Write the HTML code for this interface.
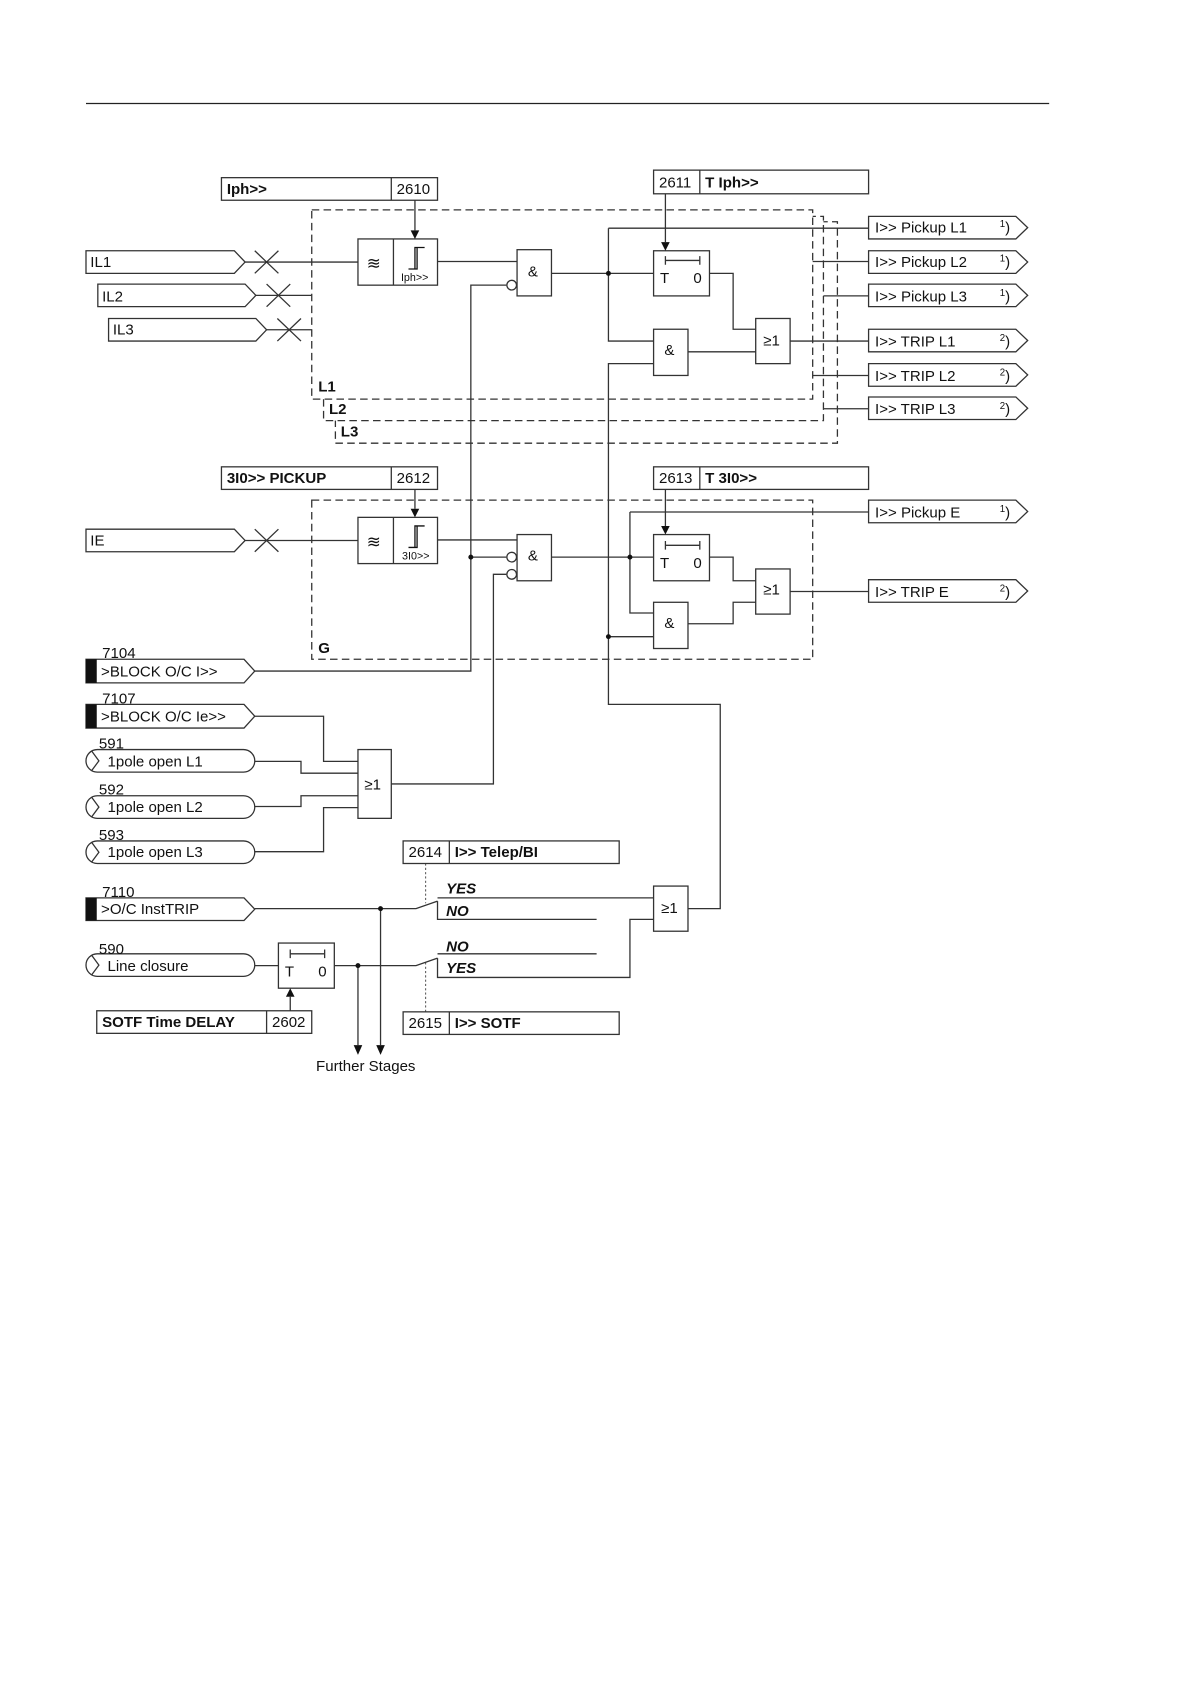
<!DOCTYPE html>
<html><head><meta charset="utf-8"><style>
html,body{margin:0;padding:0;background:#fff}
svg{display:block}
text{font-family:"Liberation Sans",sans-serif;fill:#111}
.b{font-weight:bold}
.i{font-weight:bold;font-style:italic}
</style></head><body>
<svg width="1190" height="1684" viewBox="0 0 1107 1566" xmlns="http://www.w3.org/2000/svg">
<g stroke="#333" stroke-width="1.2" fill="none">
<line x1="80" y1="96" x2="976" y2="96" stroke="#222"/>
<!-- dashed boxes -->
<rect x="312" y="206" width="467" height="206" fill="#fff" stroke-dasharray="7,4"/>
<rect x="301" y="201" width="465" height="190" fill="#fff" stroke-dasharray="7,4"/>
<rect x="290" y="195" width="466" height="176" fill="#fff" stroke-dasharray="7,4"/>
<rect x="290" y="465" width="466" height="148" stroke-dasharray="7,4"/>
<!-- param boxes -->
<rect x="206" y="165" width="201" height="21"/><line x1="364" y1="165" x2="364" y2="186"/>
<rect x="608" y="158" width="200" height="22"/><line x1="651" y1="158" x2="651" y2="180"/>
<rect x="206" y="434" width="201" height="21"/><line x1="364" y1="434" x2="364" y2="455"/>
<rect x="608" y="434" width="200" height="21"/><line x1="651" y1="434" x2="651" y2="455"/>
<rect x="375" y="782" width="201" height="21"/><line x1="418" y1="782" x2="418" y2="803"/>
<rect x="375" y="941" width="201" height="21"/><line x1="418" y1="941" x2="418" y2="962"/>
<rect x="90" y="940" width="200" height="21"/><line x1="248" y1="940" x2="248" y2="961"/>
<!-- inputs -->
<path d="M80,233 H218 L228,243.5 L218,254 H80 Z"/>
<path d="M91,264 H228 L238,274.5 L228,285 H91 Z"/>
<path d="M101,296 H238 L248,306.5 L238,317 H101 Z"/>
<path d="M80,492 H218 L228,502.5 L218,513 H80 Z"/>
<path d="M80,613 H227 L237,624 L227,635 H80 Z"/>
<path d="M80,655 H227 L237,666 L227,677 H80 Z"/>
<path d="M80,835 H227 L237,845.5 L227,856 H80 Z"/>
<rect x="80" y="697" width="157" height="21" rx="10.5"/><path d="M85,698 L92,707.5 L85,717"/>
<rect x="80" y="740" width="157" height="21" rx="10.5"/><path d="M85,741 L92,750.5 L85,760"/>
<rect x="80" y="782" width="157" height="21" rx="10.5"/><path d="M85,783 L92,792.5 L85,802"/>
<rect x="80" y="887" width="157" height="21" rx="10.5"/><path d="M85,888 L92,897.5 L85,907"/>
<!-- crosses -->
<path d="M237,233 L259,254 M237,254 L259,233"/>
<path d="M248,264 L270,285 M248,285 L270,264"/>
<path d="M258,296 L280,317 M258,317 L280,296"/>
<path d="M237,492 L259,513 M237,513 L259,492"/>
<!-- filter blocks -->
<rect x="333" y="222" width="74" height="43"/><line x1="366" y1="222" x2="366" y2="265"/>
<rect x="333" y="481" width="74" height="43"/><line x1="366" y1="481" x2="366" y2="524"/>
<path d="M380,250 H388 V230 M386,250 V230 H395" stroke="#111"/>
<path d="M380,509 H388 V489 M386,509 V489 H395" stroke="#111"/>
<!-- gates -->
<rect x="481" y="232" width="32" height="43"/>
<rect x="481" y="497" width="32" height="43"/>
<circle cx="476" cy="265" r="4.5" fill="#fff"/>
<circle cx="476" cy="518" r="4.5" fill="#fff"/>
<circle cx="476" cy="534" r="4.5" fill="#fff"/>
<rect x="608" y="233" width="52" height="42"/>
<rect x="608" y="497" width="52" height="43"/>
<path d="M619,242 H651 M619,238 V246 M651,238 V246"/>
<path d="M619,507 H651 M619,503 V511 M651,503 V511"/>
<path d="M270,887 H302 M270,883 V891 M302,883 V891"/>
<rect x="608" y="306" width="32" height="43"/>
<rect x="608" y="560" width="32" height="43"/>
<rect x="703" y="296" width="32" height="42"/>
<rect x="703" y="529" width="32" height="42"/>
<rect x="333" y="697" width="31" height="64"/>
<rect x="608" y="824" width="32" height="42"/>
<rect x="259" y="877" width="52" height="42"/>
<!-- outputs -->
<path d="M808,201 H945 L956,211.5 L945,222 H808 Z"/>
<path d="M808,233 H945 L956,243.5 L945,254 H808 Z"/>
<path d="M808,264 H945 L956,274.5 L945,285 H808 Z"/>
<path d="M808,306 H945 L956,316.5 L945,327 H808 Z"/>
<path d="M808,338 H945 L956,348.5 L945,359 H808 Z"/>
<path d="M808,369 H945 L956,379.5 L945,390 H808 Z"/>
<path d="M808,465 H945 L956,475.5 L945,486 H808 Z"/>
<path d="M808,539 H945 L956,549.5 L945,560 H808 Z"/>
<!-- wires -->
<path d="M228,243.5 H333 M238,274.5 H290 M248,306.5 H290 M228,502.5 H333"/>
<path d="M407,243 H481 M407,502 H481"/>
<path d="M386,186 V214 M386,455 V473 M619,180 V225 M619,455 V489 M270,940 V927 M354,845 V972 M333,898 V972"/>
<path d="M471,265 H438 V624 H237"/>
<path d="M438,518 H471"/>
<path d="M471,534 H459 V729 H364"/>
<path d="M513,254 H608 M566,212 V317 H608 M566,212 H808"/>
<path d="M660,254 H682 V306 H703 M640,327 H703 M735,317 H808"/>
<path d="M756,243 H808 M766,275 H808 M756,349 H808 M766,380 H808"/>
<path d="M608,338 H566 V655 H670 V845 H640"/>
<path d="M566,592 H608"/>
<path d="M513,518 H608 M586,476 V570 H608 M586,476 H808"/>
<path d="M660,518 H682 V540 H703 M640,580 H682 V560 H703 M735,550 H808"/>
<path d="M237,666 H301 V708 H333 M237,708 H280 V719 H333 M237,750 H280 V740 H333 M237,792 H301 V751 H333"/>
<path d="M237,845 H387 L407,838 M407,835 H608 M407,838 V855 H555"/>
<path d="M237,898 H259 M311,898 H387 L407,891 M407,887 H555 M407,891 V909 H586 V855 H608"/>
<path d="M396,803 V840 M396,895 V941" stroke-dasharray="2,2" stroke-width="0.8"/>
</g>
<g fill="#111">
<polygon points="382,214 390,214 386,222"/>
<polygon points="382,473 390,473 386,481"/>
<polygon points="615,225 623,225 619,233"/>
<polygon points="615,489 623,489 619,497"/>
<polygon points="266,927 274,927 270,919"/>
<polygon points="350,972 358,972 354,981"/>
<polygon points="329,972 337,972 333,981"/>
<rect x="80" y="613" width="10" height="22"/>
<rect x="80" y="655" width="10" height="22"/>
<rect x="80" y="835" width="10" height="21"/>
<circle cx="566" cy="254" r="2.3"/><circle cx="566" cy="592" r="2.3"/>
<circle cx="586" cy="518" r="2.3"/><circle cx="438" cy="518" r="2.3"/>
<circle cx="354" cy="845" r="2.3"/><circle cx="333" cy="898" r="2.3"/>
</g>
<g font-size="14">
<text x="211" y="180" class="b">Iph&gt;&gt;</text><text x="369" y="180">2610</text>
<text x="613" y="174">2611</text><text x="656" y="174" class="b">T Iph&gt;&gt;</text>
<text x="211" y="449" class="b">3I0&gt;&gt; PICKUP</text><text x="369" y="449">2612</text>
<text x="613" y="449">2613</text><text x="656" y="449" class="b">T 3I0&gt;&gt;</text>
<text x="380" y="797">2614</text><text x="423" y="797" class="b">I&gt;&gt; Telep/BI</text>
<text x="380" y="956">2615</text><text x="423" y="956" class="b">I&gt;&gt; SOTF</text>
<text x="95" y="955" class="b">SOTF Time DELAY</text><text x="253" y="955">2602</text>
<text x="84" y="248">IL1</text><text x="95" y="280">IL2</text><text x="105" y="311">IL3</text>
<text x="84" y="507">IE</text>
<text x="95" y="612">7104</text><text x="94" y="629">&gt;BLOCK O/C I&gt;&gt;</text>
<text x="95" y="654">7107</text><text x="94" y="671">&gt;BLOCK O/C Ie&gt;&gt;</text>
<text x="92" y="696">591</text><text x="100" y="713">1pole open L1</text>
<text x="92" y="739">592</text><text x="100" y="755">1pole open L2</text>
<text x="92" y="781">593</text><text x="100" y="797">1pole open L3</text>
<text x="95" y="834">7110</text><text x="94" y="850">&gt;O/C InstTRIP</text>
<text x="92" y="887">590</text><text x="100" y="903">Line closure</text>
<text x="294" y="996">Further Stages</text>
<text x="296" y="364" class="b">L1</text><text x="306" y="385" class="b">L2</text><text x="317" y="406" class="b">L3</text>
<text x="296" y="607" class="b">G</text>
<text x="415" y="831" class="i">YES</text><text x="415" y="852" class="i">NO</text>
<text x="415" y="885" class="i">NO</text><text x="415" y="905" class="i">YES</text>
<text x="491" y="257">&amp;</text><text x="491" y="521">&amp;</text>
<text x="618" y="330">&amp;</text><text x="618" y="584">&amp;</text>
<text x="710" y="321">≥1</text><text x="710" y="553">≥1</text>
<text x="339" y="734">≥1</text><text x="615" y="849">≥1</text>
<text x="614" y="263">T</text><text x="645" y="263">0</text>
<text x="614" y="528">T</text><text x="645" y="528">0</text>
<text x="265" y="908">T</text><text x="296" y="908">0</text>
<text x="341" y="250" font-size="16" font-family="DejaVu Sans, sans-serif">≋</text><text x="341" y="509" font-size="16" font-family="DejaVu Sans, sans-serif">≋</text>
<text x="373" y="261" font-size="10">Iph&gt;&gt;</text><text x="374" y="520" font-size="10">3I0&gt;&gt;</text>
<text x="814" y="216">I&gt;&gt; Pickup L1</text>
<text x="814" y="248">I&gt;&gt; Pickup L2</text>
<text x="814" y="280">I&gt;&gt; Pickup L3</text>
<text x="814" y="322">I&gt;&gt; TRIP L1</text>
<text x="814" y="354">I&gt;&gt; TRIP L2</text>
<text x="814" y="385">I&gt;&gt; TRIP L3</text>
<text x="814" y="481">I&gt;&gt; Pickup E</text>
<text x="814" y="555">I&gt;&gt; TRIP E</text>
<text x="930" y="216"><tspan font-size="9" dy="-5">1</tspan><tspan dy="5">)</tspan></text>
<text x="930" y="248"><tspan font-size="9" dy="-5">1</tspan><tspan dy="5">)</tspan></text>
<text x="930" y="280"><tspan font-size="9" dy="-5">1</tspan><tspan dy="5">)</tspan></text>
<text x="930" y="322"><tspan font-size="9" dy="-5">2</tspan><tspan dy="5">)</tspan></text>
<text x="930" y="354"><tspan font-size="9" dy="-5">2</tspan><tspan dy="5">)</tspan></text>
<text x="930" y="385"><tspan font-size="9" dy="-5">2</tspan><tspan dy="5">)</tspan></text>
<text x="930" y="481"><tspan font-size="9" dy="-5">1</tspan><tspan dy="5">)</tspan></text>
<text x="930" y="555"><tspan font-size="9" dy="-5">2</tspan><tspan dy="5">)</tspan></text>
</g>
</svg>
</body></html>
